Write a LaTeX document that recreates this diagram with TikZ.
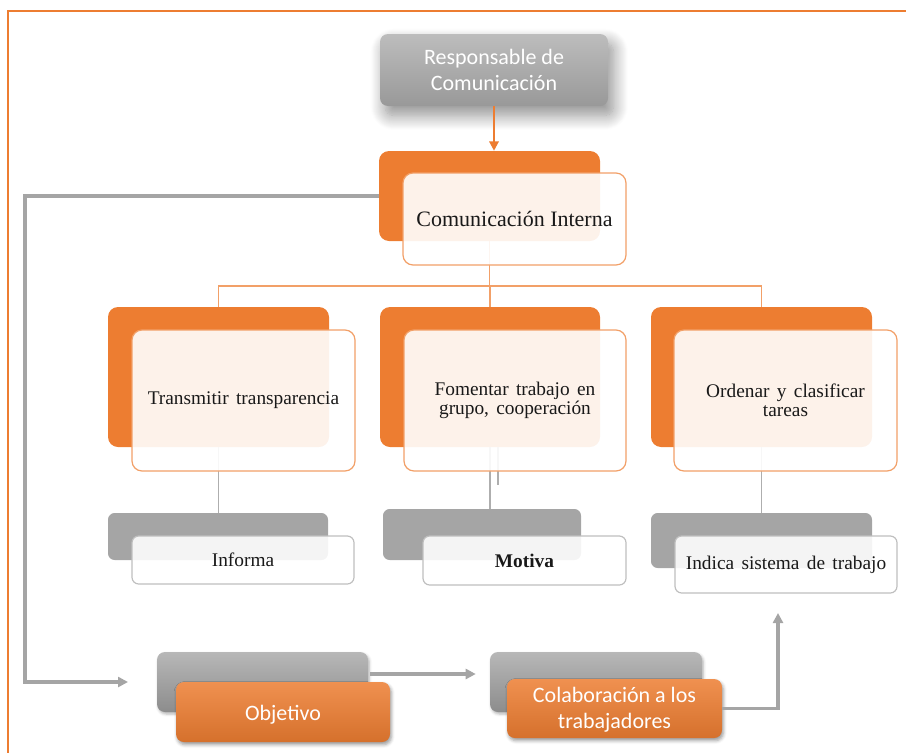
\documentclass[tikz,border=0pt]{standalone}
\usepackage{fontspec}
\setmainfont{Liberation Serif}
\newfontfamily\calibri{Carlito}
\usetikzlibrary{fit,calc,shadows.blur,arrows.meta}
\definecolor{accorange}{HTML}{ED7D31}
\definecolor{accgray}{HTML}{A5A5A5}
\definecolor{edgegray}{HTML}{BFBFBF}
\definecolor{lineorange}{HTML}{F2A068}
\newcommand\widerspaces{\spaceskip=0.38em plus 0.1em\relax}
\begin{document}
\begin{tikzpicture}[x=0.75pt,y=-0.75pt,
  backO/.style={fill=accorange, rounded corners=7.5pt, inner sep=0pt},
  frontO/.style={draw=lineorange, line width=0.9pt, fill=white, fill opacity=0.9,
    rounded corners=7.5pt, inner sep=0pt},
  backG/.style={fill=accgray, rounded corners=5pt, inner sep=0pt},
  frontG/.style={draw=edgegray, line width=0.9pt, fill=white, fill opacity=0.88,
    rounded corners=5pt, inner sep=0pt},
  serifTxt/.style={align=center, inner sep=0pt, text=black!90,
    font=\fontsize{14.5}{14.5}\selectfont\widerspaces},
  bigSerif/.style={align=center, inner sep=0pt, text=black!90,
    font=\fontsize{16.5}{19}\selectfont},
  sansTxt/.style={align=center, inner sep=0pt, text=white,
    font=\calibri\fontsize{16.5}{19.5}\selectfont},
  headbox/.style={top color=black!26, bottom color=black!40, rounded corners=6pt, inner sep=0pt,
    blur shadow={shadow xshift=4pt, shadow yshift=-7pt, shadow blur radius=11pt,
      shadow blur steps=16, shadow opacity=45}},
  bgback/.style={top color=black!28, bottom color=black!45, rounded corners=6pt, inner sep=0pt,
    blur shadow={shadow xshift=1pt, shadow yshift=-1.5pt, shadow blur radius=2pt, shadow opacity=30}},
  ofront/.style={top color=accorange!85!white, bottom color=accorange!90!black, rounded corners=6pt,
    inner sep=0pt,
    blur shadow={shadow xshift=1pt, shadow yshift=-2pt, shadow blur radius=2.5pt, shadow opacity=40}},
  busline/.style={draw=lineorange, line width=0.9pt},
  stemline/.style={draw=accgray!90, line width=1.1pt},
  grayarrow/.style={draw=accgray, line width=2.5pt, -{Triangle[length=7.5pt,width=7.5pt]}},
]
\useasboundingbox (0,0) rectangle (906,753);

% page frame
\draw[accorange, line width=0.9pt] (906,11) -- (8,11) -- (8,753);

% head box
\node[headbox, fit={(380,34) (608,106)},
  label={[sansTxt]center:Responsable de\\Comunicación}] (head) {};

% back panels
\node[backO, fit={(379,151) (600,241)}] (ciB) {};
\node[backO, fit={(108,307) (329,447)}] (lB) {};
\node[backO, fit={(380,307) (600,447)}] (mB) {};
\node[backO, fit={(651,307) (872,447)}] (rB) {};
\node[backG, fit={(108,513) (328,560)}] (lgB) {};
\node[backG, fit={(383,509) (581,560)}] (mgB) {};
\node[backG, fit={(651,513) (872,568)}] (rgB) {};

% connectors behind the front panels
\coordinate (bus) at (0,286);
\draw[accorange, line width=1.6pt, -{Triangle[length=7pt,width=7pt]}] (head.south) -- (head.south |- ciB.north);
\draw[busline] (ciB.south) -- (ciB.south |- bus);
\draw[busline] (lB.north) -- (lB.north |- bus) -- (rB.north |- bus) -- (rB.north);
\draw[busline] (mB.north) -- (mB.north |- bus);
\draw[stemline] (lB.south) -- (lB.south |- lgB.north);
\draw[stemline] (mB.south) -- (mB.south |- mgB.north);
\draw[stemline] ($(mB.south)+(8,0)$) -- ($(mB.south)+(8,38)$);
\draw[stemline] (rB.south) -- (rB.south |- rgB.north);

% front panels
\node[frontO, fit={(403,173) (626,265)},
  label={[bigSerif]center:Comunicación Interna}] (ciF) {};
\node[frontO, fit={(132,330) (355,471)},
  label={[serifTxt]center:Transmitir transparencia}] (lF) {};
\node[frontO, fit={(404,330) (626,471)},
  label={[serifTxt]center:Fomentar trabajo en\\grupo, cooperación}] (mF) {};
\node[frontO, fit={(674,330) (897,471)},
  label={[serifTxt]center:Ordenar y clasificar\\tareas}] (rF) {};
\node[frontG, fit={(132,536) (354,584)},
  label={[serifTxt]center:Informa}] (lgF) {};
\node[frontG, fit={(423,536) (626,585)},
  label={[serifTxt]center:\textbf{Motiva}}] (mgF) {};
\node[frontG, fit={(675,536) (897,593)},
  label={[serifTxt]center:Indica sistema de trabajo}] (rgF) {};

% bottom row
\node[bgback, fit={(157,652) (368,712)}] (objB) {};
\node[ofront, fit={(176,682) (390,742)},
  label={[sansTxt,yshift=-2pt]center:Objetivo}] (objF) {};
\node[bgback, fit={(490,652) (702,712)}] (colB) {};
\node[ofront, fit={(507,679) (722,738)},
  label={[sansTxt,yshift=-1pt]center:Colaboración a los\\trabajadores}] (colF) {};

% feedback arrows
\coordinate (loopX) at (25,0);
\coordinate (objIn) at (128,682);
\coordinate (upEnd) at (778,613);
\draw[grayarrow] (ciB.west) -- (ciB.west -| loopX) -- (loopX |- objIn) -- (objIn);
\draw[grayarrow] ($(objB.east)+(2,-8)$) -- ($(colB.west)+(-14,-8)$);
\draw[grayarrow] (colF.east) -| (upEnd);
\end{tikzpicture}
\end{document}
